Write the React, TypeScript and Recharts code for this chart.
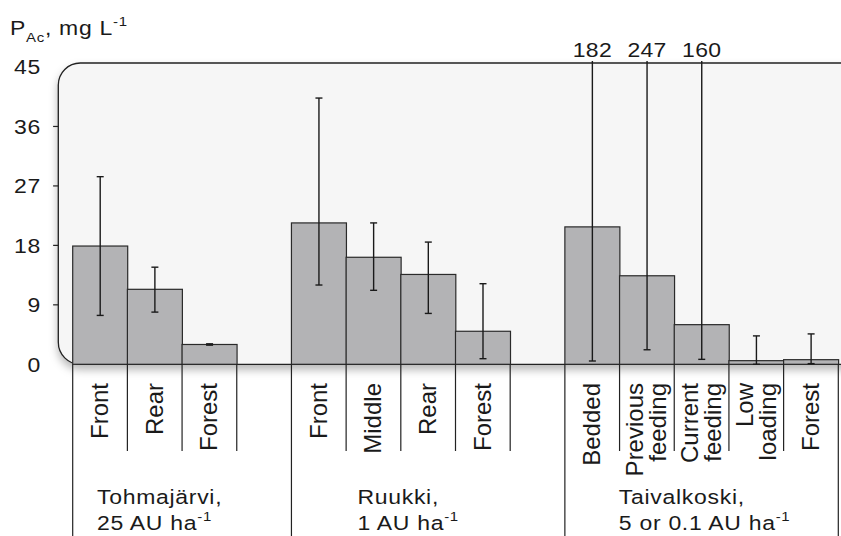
import React from 'react';
import { BarChart, Bar, XAxis, YAxis, ReferenceArea } from 'recharts';

// P_Ac (mg/L) per site position, with error bar ends (low / high)
const categories = [
  'Front', 'Rear', 'Forest', '',
  'Front', 'Middle', 'Rear', 'Forest', '',
  'Bedded', 'Previous\nfeeding', 'Current\nfeeding', 'Low\nloading', 'Forest',
];
const means = [17.9, 11.35, 3.0, null, 21.4, 16.2, 13.6, 5.0, null, 20.8, 13.4, 6.0, 0.55, 0.7];
const errLow = [7.4, 7.9, 2.9, null, 12.0, 11.2, 7.7, 0.85, null, 0.5, 2.2, 0.75, 0, 0.1];
const errHigh = [28.4, 14.7, 3.1, null, 40.3, 21.4, 18.5, 12.2, null, 182, 247, 160, 4.3, 4.6];

const groupNames = ['Tohmajärvi,', 'Ruukki,', 'Taivalkoski,'];
const groupLoads = ['25 AU ha', '1 AU ha', '5 or 0.1 AU ha'];
const groupStarts = [0, 4, 9];

const yTicks = [0, 9, 18, 27, 36, 45];
const Y_MAX = 45;

const W = 841;
const H = 536;
const PLOT_LEFT = 72.7;
const PLOT_RIGHT = 838.3;
const PLOT_TOP = 67;
const PLOT_BOTTOM = 364.3;
const SLOT = (PLOT_RIGHT - PLOT_LEFT) / categories.length;
const groupLabelOffsets = [24.3, 66, 54];

const FONT = '"Liberation Sans", Arial, Helvetica, sans-serif';
const INK = '#1a1a1a';
const SY = 0.88;

const data = categories.map((c, i) => ({
  key: `${i}-${c}`,
  label: c,
  value: means[i],
  lo: errLow[i],
  hi: errHigh[i],
}));

const HText = ({ x, y, anchor = 'start', size = 23, spacing = 0.7, children }: any) => (
  <text
    transform={`translate(${x} ${y}) scale(1 ${SY})`}
    textAnchor={anchor}
    fontFamily={FONT}
    fontSize={size}
    letterSpacing={spacing}
    fill={INK}
  >
    {children}
  </text>
);

const BarWithError = (props: any) => {
  const { x, y, width, height, payload } = props;
  if (!payload || payload.value == null) return null;
  const base = y + height;
  const k = height / payload.value;
  const top = base - Y_MAX * k;
  const cx = x + width / 2;
  const yLo = base - payload.lo * k;
  const clipped = payload.hi > Y_MAX;
  const yHi = clipped ? top - 6 : base - payload.hi * k;
  return (
    <g>
      <rect x={x} y={y} width={width} height={height} fill="#b3b3b5" stroke="#2a2a2a" strokeWidth={1.2} />
      <line x1={cx} y1={yLo} x2={cx} y2={yHi} stroke={INK} strokeWidth={1.4} />
      <line x1={cx - 3.5} y1={yLo} x2={cx + 3.5} y2={yLo} stroke={INK} strokeWidth={1.4} />
      {!clipped && <line x1={cx - 3.5} y1={yHi} x2={cx + 3.5} y2={yHi} stroke={INK} strokeWidth={1.4} />}
      {clipped && (
        <HText x={cx} y={top - 10} anchor="middle" spacing={0.3}>
          {payload.hi}
        </HText>
      )}
    </g>
  );
};

const PanelShape = (props: any) => {
  const { x, y, width, height } = props;
  return (
    <g>
      <defs>
        <filter id="panelShadow" x="-10%" y="-10%" width="130%" height="130%">
          <feDropShadow dx="0" dy="5" stdDeviation="4" floodColor="#000" floodOpacity="0.28" />
        </filter>
      </defs>
      <rect
        x={x - 14.4}
        y={y - 4}
        width={width + 40}
        height={height + 4}
        rx={22}
        ry={22}
        fill="#f6f6f6"
        stroke="#222"
        strokeWidth={1.3}
        filter="url(#panelShadow)"
      />
    </g>
  );
};

const YTick = (props: any) => {
  const { y, payload } = props;
  const v = payload.value;
  const showMark = v !== 0 && v !== Y_MAX;
  return (
    <g>
      {showMark && (
        <line x1={PLOT_LEFT - 19.6} y1={y} x2={PLOT_LEFT - 14.4} y2={y} stroke="#222" strokeWidth={1.2} />
      )}
      <HText x={PLOT_LEFT - 31.5} y={y + 7.2} anchor="end" spacing={0.8}>
        {v}
      </HText>
    </g>
  );
};

const XTick = (props: any) => {
  const { x, payload } = props;
  const i = payload.index ?? props.index;
  const top = PLOT_BOTTOM;
  const left = x - SLOT / 2;
  const g = groupStarts.indexOf(i);
  const lines = String(categories[i] || '').split('\n').filter(Boolean);
  const rotSize = 24;
  return (
    <g>
      <line
        x1={left}
        y1={top}
        x2={left}
        y2={g >= 0 ? H : 451}
        stroke="#222"
        strokeWidth={1.2}
      />
      {i === categories.length - 1 && (
        <line x1={x + SLOT / 2} y1={top} x2={x + SLOT / 2} y2={H} stroke="#222" strokeWidth={1.2} />
      )}
      {lines.map((t, j) => {
        const bx = x + 8 + (j - (lines.length - 1) / 2) * 23;
        return (
          <text
            key={j}
            transform={`translate(${bx} 383) rotate(-90)`}
            textAnchor="end"
            fontFamily={FONT}
            fontSize={rotSize}
            fill={INK}
          >
            {t}
          </text>
        );
      })}
      {g >= 0 && (
        <g>
          <HText x={left + groupLabelOffsets[g]} y={504}>
            {groupNames[g]}
          </HText>
          <HText x={left + groupLabelOffsets[g]} y={530}>
            {groupLoads[g]}
            <tspan fontSize={15} dy={-10}>-1</tspan>
          </HText>
        </g>
      )}
    </g>
  );
};

export default function App() {
  return (
    <div style={{ position: 'absolute', left: 0, top: 0, width: W, height: H, background: '#fff' }}>
      <BarChart
        width={W}
        height={H}
        data={data}
        barCategoryGap={0}
        barGap={0}
        margin={{ top: PLOT_TOP, right: W - PLOT_RIGHT, bottom: 0, left: 0 }}
      >
        <ReferenceArea y1={0} y2={Y_MAX} shape={PanelShape} ifOverflow="visible" zIndex={-200} />
        <XAxis
          dataKey="key"
          interval={0}
          axisLine={false}
          tickLine={false}
          tickSize={0}
          tickMargin={0}
          height={H - PLOT_BOTTOM}
          tick={XTick}
        />
        <YAxis
          domain={[0, Y_MAX]}
          ticks={yTicks}
          interval={0}
          width={PLOT_LEFT}
          axisLine={false}
          tickLine={false}
          tickSize={0}
          tickMargin={0}
          tick={YTick}
        />
        <Bar dataKey="value" shape={BarWithError} isAnimationActive={false} />
      </BarChart>
      <svg width={W} height={H} style={{ position: 'absolute', left: 0, top: 0, pointerEvents: 'none' }}>
        <HText x={10} y={35}>
          P
          <tspan fontSize={15} dy={8}>Ac</tspan>
          <tspan dy={-8}>, mg L</tspan>
          <tspan fontSize={15} dy={-10}>-1</tspan>
        </HText>
      </svg>
    </div>
  );
}
